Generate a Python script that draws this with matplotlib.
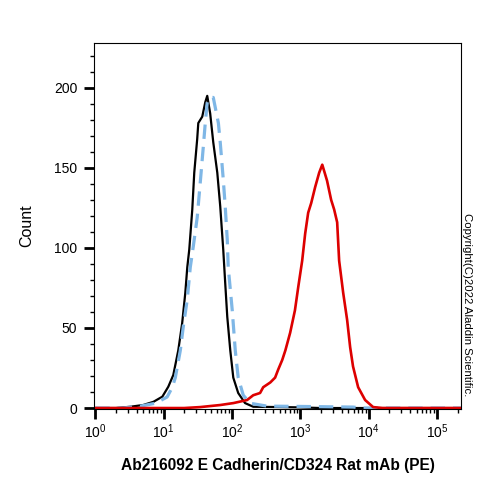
import numpy as np
import matplotlib
matplotlib.use('Agg')
import matplotlib.pyplot as plt
from matplotlib.ticker import LogLocator, MultipleLocator

plt.rcParams['font.family'] = ['Liberation Sans', 'DejaVu Sans']
plt.rcParams['mathtext.fontset'] = 'custom'
plt.rcParams['mathtext.rm'] = 'Liberation Sans'
plt.rcParams['mathtext.it'] = 'Liberation Sans'

# black (control) histogram: log10 intensity, count
black_logx = [0.0, 0.3, 0.51, 0.70, 0.85, 0.98, 1.067, 1.14, 1.213, 1.27, 1.316, 1.345,
              1.374, 1.418, 1.447, 1.49, 1.506, 1.564, 1.608, 1.637, 1.68, 1.725,
              1.784, 1.827, 1.871, 1.90, 1.93, 1.974, 2.018, 2.09, 2.19, 2.31, 2.70,
              3.0, 3.3, 5.35]
black_count = [0, 0, 0.8, 1.9, 3.9, 7.1, 13.3, 20.6, 36, 53, 72, 88,
               99, 124, 147, 168, 178, 182, 191, 195, 184, 166,
               147, 126, 99, 78, 57, 36, 19, 9.4, 3.1, 0.8, 0.6,
               0.4, 0, 0]

# blue dashed histogram
blue_logx = [0.0, 0.4, 0.66, 0.88, 1.05, 1.126, 1.17, 1.243, 1.287, 1.345, 1.389,
             1.433, 1.49, 1.535, 1.579, 1.608, 1.637, 1.68, 1.725, 1.80, 1.827,
             1.871, 1.90, 1.93, 1.944, 2.003, 2.047, 2.09, 2.164, 2.266, 2.51,
             3.0, 3.77, 3.9, 5.35]
blue_count = [0, 0, 1.2, 3, 6.9, 13, 19, 36, 51, 68, 88,
              101, 119, 141, 163, 178, 191, 194, 194, 178, 166,
              143, 126, 105, 88, 61, 36, 19, 8, 3, 1.2,
              1.0, 0.6, 0, 0]

# red (PE stained) histogram
red_logx = [0.0, 1.3, 1.535, 1.83, 2.02, 2.22, 2.31, 2.41, 2.456, 2.56, 2.63, 2.675,
            2.734, 2.78, 2.85, 2.92, 2.97, 3.026, 3.07, 3.114, 3.158, 3.216, 3.275,
            3.32, 3.39, 3.45, 3.494, 3.538, 3.567, 3.626, 3.684, 3.728, 3.77,
            3.845, 3.947, 4.064, 4.2, 5.35]
red_count = [0, 0, 0.6, 1.9, 3.1, 5, 8, 9.4, 13, 16, 19, 24,
             30, 36, 47, 61, 76, 92, 109, 122, 128, 138, 147,
             152, 142, 130, 124, 116, 92, 72, 55, 38, 26,
             13, 5, 0.6, 0, 0]

fig = plt.figure(figsize=(5, 5), dpi=100)
ax = fig.add_axes([0.188, 0.182, 0.734, 0.732])

ax.plot(10 ** np.array(black_logx), black_count, color='black', lw=1.6)
ax.plot(10 ** np.array(blue_logx), blue_count, color='#7fb7e6', lw=2.3,
        dashes=(4.5, 2.5))
ax.plot(10 ** np.array(red_logx), red_count, color='#dd0000', lw=1.9)

ax.set_xscale('log')
ax.set_xlim(10 ** -0.02, 10 ** 5.35)
ax.set_ylim(-0.6, 228)

ax.xaxis.set_major_locator(LogLocator(base=10, numticks=10))
ax.xaxis.set_minor_locator(LogLocator(base=10, subs=np.arange(2, 10), numticks=20))
ax.yaxis.set_major_locator(MultipleLocator(50))
ax.yaxis.set_minor_locator(MultipleLocator(10))

ax.tick_params(axis='both', which='major', direction='out', length=7, width=2,
               labelsize=10)
ax.tick_params(axis='both', which='minor', direction='out', length=3, width=1)
ax.tick_params(axis='y', which='major', pad=5)
ax.tick_params(axis='x', which='major', pad=3)

for s in ax.spines.values():
    s.set_linewidth(0.8)

ax.set_ylabel('Count', fontsize=11.5, labelpad=14)
ax.set_xlabel('Ab216092 E Cadherin/CD324 Rat mAb (PE)', fontsize=11.2,
              fontweight='bold', labelpad=12)

fig.text(0.934, 0.39, 'Copyright(C)2022 Aladdin Scientific.', rotation=-90,
         fontsize=8.2, ha='center', va='center')

plt.savefig('out.png', dpi=100)
